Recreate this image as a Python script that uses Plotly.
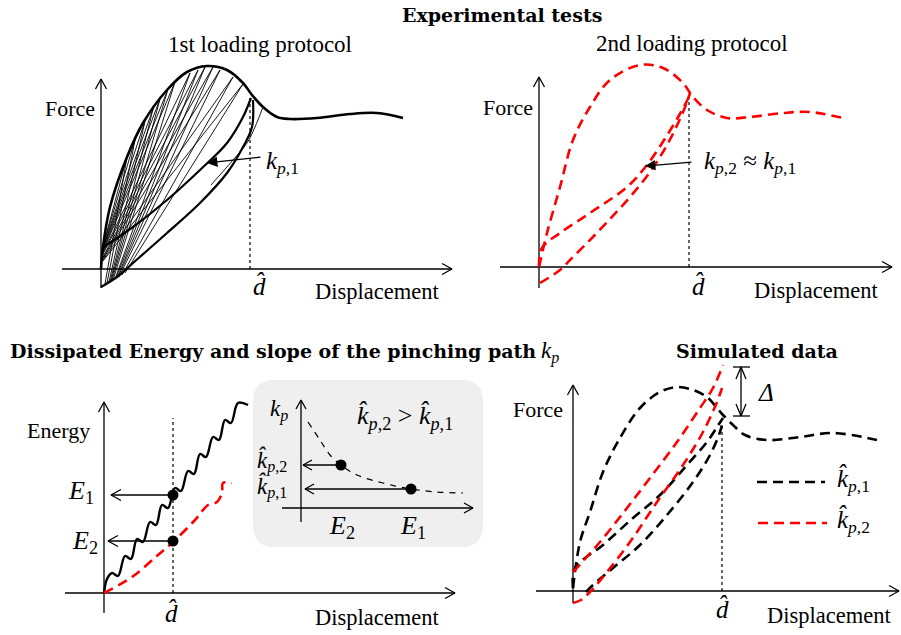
import plotly.graph_objects as go

W, H = 901, 635

# ---------------- data (displacement, force / energy in arbitrary units) ----------------
# Panel 1 : 1st loading protocol
p1_env_x = [0, 2, 9, 26, 42, 66, 86, 106, 126, 142, 151, 162, 176, 189, 216, 249, 276, 302]
p1_env_y = [0, 22, 62, 112, 146, 179, 197, 203, 199, 186, 174, 162, 152, 150, 151, 155, 156, 151]
p1_reload_x = [1, 32, 66, 99, 126, 142, 150]
p1_reload_y = [21, 42, 69, 99, 126, 152, 171]
p1_lower_x = [0, 16, 32, 66, 99, 126, 142, 151, 152]
p1_lower_y = [-18, -8, 6, 36, 66, 96, 122, 142, 169]
p1_cyc_start_x = [1, 1, 1, 1, 1, 1, 1, 1, 1, 2, 2, 2, 2, 2]
p1_cyc_start_y = [19, 19, 18, 18, 17, 16, 15, 14, 13, 12, 11, 10, 9, 8]
p1_cyc_top_x = [26, 34, 44, 52, 59, 67, 74, 89, 97, 104, 112, 119, 132, 142]
p1_cyc_top_y = [112, 129, 148, 160, 170, 180, 187, 196, 199, 202, 202, 199, 192, 185]
p1_cyc_end_x = [4, 6, 8, 9, 10, 11, 12, 14, 15, 16, 17, 18, 21, 24]
p1_cyc_end_y = [-15, -14, -13, -13, -12, -11, -11, -10, -9, -9, -8, -8, -6, -4]
p1_post_x = [162, 154, 146, 132, 110]
p1_post_y = [162, 142, 126, 109, 84]
p1_dhat = 149
p1_dhat_force = 172

# Panel 2 : 2nd loading protocol
p2_env_x = [0, 8, 21, 34, 51, 71, 101, 124, 144, 154, 168, 188, 211, 244, 271, 304]
p2_env_y = [0, 34, 80, 127, 160, 187, 202, 199, 184, 170, 157, 149, 150, 154, 155, 149]
p2_reload_x = [0, 3, 21, 51, 88, 108, 127, 142, 151]
p2_reload_y = [0, 19, 34, 54, 80, 102, 130, 155, 172]
p2_lower_x = [1, 21, 31, 51, 71, 91, 111, 128, 141, 148, 151]
p2_lower_y = [-16, -3, 7, 27, 48, 70, 95, 122, 148, 165, 174]
p2_dhat = 150
p2_dhat_force = 174

# Panel 3 : dissipated energy
p3_e1_x = [0, 3, 8, 14, 21, 27, 33, 39, 46, 52, 58, 64, 71, 77, 84, 90, 96, 102, 109, 115, 121, 127, 134, 144]
p3_e1_y = [0, 14, 20, 17, 37, 34, 54, 51, 71, 68, 88, 85, 105, 102, 122, 119, 139, 136, 156, 153, 173, 170, 190, 188]
p3_e2_x = [0, 28, 54, 69, 91, 104, 113, 118, 119, 128]
p3_e2_y = [0, 16, 38, 51, 73, 88, 91, 100, 110, 110]
p3_dhat = 69
p3_E1 = 98
p3_E2 = 52

# Inset : k_p versus energy
in_curve_x = [7, 19, 29, 40, 56, 82, 110, 136, 162]
in_curve_y = [86, 68, 53, 43, 33, 25, 19, 16, 15]
in_pts_x = [40, 110]
in_pts_y = [43, 19]

# Panel 4 : simulated data
p4_k1_env_x = [0, 7, 17, 30, 47, 67, 87, 104, 120, 134, 144, 150, 160, 172, 194, 227, 260, 304]
p4_k1_env_y = [3, 49, 79, 119, 153, 183, 199, 204, 201, 194, 183, 176, 166, 156, 151, 154, 158, 151]
p4_k1_up_x = [0, 2, 30, 60, 87, 114, 134, 144, 150]
p4_k1_up_y = [3, 23, 46, 73, 96, 126, 149, 164, 173]
p4_k1_lo_x = [13, 20, 40, 67, 94, 120, 137, 147, 150]
p4_k1_lo_y = [-1, 6, 23, 46, 76, 109, 136, 159, 171]
p4_k2_up_x = [0, 27, 54, 77, 104, 127, 140, 150]
p4_k2_up_y = [19, 49, 83, 113, 149, 183, 203, 226]
p4_k2_lo_x = [0, 8, 17, 34, 57, 84, 110, 130, 144, 149]
p4_k2_lo_y = [-12, -9, -1, 19, 49, 89, 126, 159, 189, 203]
p4_dhat = 149
p4_dhat_force = 168
p4_delta_lo = 175
p4_delta_hi = 224

# ---------------- layout helpers ----------------
# panel origins in pixels (position only)
ORIG = {1: (101, 269), 2: (539, 267), 3: (104, 593), 4: (573, 591), 5: (301, 508)}
AX_EXT = {1: ((-39, 351), (-19, 190)), 2: ((-39, 353), (-21, 190)),
          3: ((-39, 351), (-20, 191)), 4: ((-37, 326), (-12, 206)),
          5: ((-19, 172), (-14, 108))}

fig = go.Figure()
BLACK = "#000000"
RED = "#ff0000"
DASH = "10px,6px"


def ax(i):
    return ("x" if i == 1 else f"x{i}"), ("y" if i == 1 else f"y{i}")


def add(i, x, y, color=BLACK, width=1.3, dash="solid", shape="linear", mode="lines", smooth=1.0, **kw):
    xa, ya = ax(i)
    line = dict(color=color, width=width, dash=dash, shape=shape)
    if shape == "spline":
        line["smoothing"] = smooth
    fig.add_trace(go.Scatter(x=x, y=y, mode=mode, line=line, xaxis=xa, yaxis=ya,
                             showlegend=False, hoverinfo="skip", **kw))


def vhead(i, tx, ty, dx, dy, L=10, Wd=5.5, width=1.3):
    # open "V" arrow head at the tip (tx, ty) pointing along (dx, dy)
    nx, ny = -dy, dx
    xs = [tx - L * dx + Wd * nx, tx, tx - L * dx - Wd * nx]
    ys = [ty - L * dy + Wd * ny, ty, ty - L * dy - Wd * ny]
    add(i, xs, ys, width=width)


def axes(i, L=10, Wd=5.5):
    (x0, x1), (y0, y1) = AX_EXT[i]
    add(i, [x0, x1], [0, 0], width=1.3)
    add(i, [0, 0], [y0, y1], width=1.3)
    vhead(i, x1, 0, 1, 0, L, Wd)
    vhead(i, 0, y1, 0, 1, L, Wd)


def P(px, py):
    return px / W, 1 - py / H


annotations = []


def text(px, py, s, size=22, family="Liberation Serif", xanchor="center", yanchor="middle", color=BLACK):
    x, y = P(px, py)
    annotations.append(dict(x=x, y=y, xref="paper", yref="paper", text=s, showarrow=False,
                            xanchor=xanchor, yanchor=yanchor,
                            font=dict(family=family, size=size, color=color)))


# gray inset box (rounded)
bx0, by0, bx1, by1, r = 253, 380, 483, 547, 22
pts = [("M", bx0 + r, by0), ("L", bx1 - r, by0), ("Q", bx1, by0, bx1, by0 + r), ("L", bx1, by1 - r),
       ("Q", bx1, by1, bx1 - r, by1), ("L", bx0 + r, by1), ("Q", bx0, by1, bx0, by1 - r),
       ("L", bx0, by0 + r), ("Q", bx0, by0, bx0 + r, by0)]
path = ""
for p in pts:
    c = p[0]
    coords = p[1:]
    segs = []
    for k in range(0, len(coords), 2):
        x, y = P(coords[k], coords[k + 1])
        segs.append(f"{x:.5f},{y:.5f}")
    path += c + " " + " ".join(segs) + " "
path += "Z"
shapes = [dict(type="path", path=path, xref="paper", yref="paper", fillcolor="#efefef",
               line=dict(width=0), layer="below")]

# ---------------- Panel 1 ----------------
axes(1)
cx, cy = [], []
for k in range(len(p1_cyc_top_x)):
    cx += [p1_cyc_start_x[k], p1_cyc_top_x[k], p1_cyc_end_x[k], None]
    cy += [p1_cyc_start_y[k], p1_cyc_top_y[k], p1_cyc_end_y[k], None]
add(1, cx, cy, width=0.9)
add(1, p1_post_x, p1_post_y, width=0.9, shape="spline")
add(1, [p1_dhat, p1_dhat], [0, p1_dhat_force], width=1.2, dash="dot")
add(1, p1_env_x, p1_env_y, width=2.6, shape="spline")
add(1, p1_reload_x, p1_reload_y, width=2.2, shape="spline")
add(1, p1_lower_x, p1_lower_y, width=2.2, shape="spline")

# ---------------- Panel 2 ----------------
axes(2)
add(2, [p2_dhat, p2_dhat], [0, p2_dhat_force], width=1.2, dash="dot")
add(2, p2_env_x, p2_env_y, color=RED, width=2.6, dash=DASH, shape="spline")
add(2, p2_reload_x, p2_reload_y, color=RED, width=2.6, dash=DASH, shape="spline")
add(2, p2_lower_x, p2_lower_y, color=RED, width=2.6, dash=DASH, shape="spline")

# ---------------- Panel 3 ----------------
axes(3)
add(3, [p3_dhat, p3_dhat], [0, 175], width=1.2, dash="dot")
add(3, p3_e1_x, p3_e1_y, width=2.4, shape="spline", smooth=1.0)
add(3, p3_e2_x, p3_e2_y, color=RED, width=2.6, dash=DASH, shape="spline")
add(3, [p3_dhat, 7], [p3_E1, p3_E1], width=1.3)
vhead(3, 7, p3_E1, -1, 0)
add(3, [p3_dhat, 4], [p3_E2, p3_E2], width=1.3)
vhead(3, 4, p3_E2, -1, 0)
add(3, [p3_dhat, p3_dhat], [p3_E1, p3_E2], mode="markers", marker=dict(size=11, color=BLACK))

# ---------------- Inset ----------------
axes(5, L=9, Wd=5)
add(5, in_curve_x, in_curve_y, width=1.2, dash="6px,6px", shape="spline")
add(5, [in_pts_x[0], 2], [in_pts_y[0], in_pts_y[0]], width=1.3)
vhead(5, 2, in_pts_y[0], -1, 0, 9, 5)
add(5, [in_pts_x[1], 4], [in_pts_y[1], in_pts_y[1]], width=1.3)
vhead(5, 4, in_pts_y[1], -1, 0, 9, 5)
add(5, in_pts_x, in_pts_y, mode="markers", marker=dict(size=11, color=BLACK))

# ---------------- Panel 4 ----------------
axes(4)
add(4, [p4_dhat, p4_dhat], [0, p4_dhat_force], width=1.2, dash="dot")
add(4, p4_k1_env_x, p4_k1_env_y, width=2.6, dash=DASH, shape="spline")
add(4, p4_k1_up_x, p4_k1_up_y, width=2.6, dash=DASH, shape="spline")
add(4, p4_k1_lo_x, p4_k1_lo_y, width=2.6, dash=DASH, shape="spline")
add(4, p4_k2_up_x, p4_k2_up_y, color=RED, width=2.6, dash=DASH, shape="spline")
add(4, p4_k2_lo_x, p4_k2_lo_y, color=RED, width=2.6, dash=DASH, shape="spline")
# Delta bracket
add(4, [168, 168], [p4_delta_lo, p4_delta_hi], width=1.3)
add(4, [160, 177], [p4_delta_hi, p4_delta_hi], width=1.3)
add(4, [160, 177], [p4_delta_lo, p4_delta_lo], width=1.3)
vhead(4, 168, p4_delta_hi, 0, 1, 12, 5)
vhead(4, 168, p4_delta_lo, 0, -1, 12, 5)
# legend lines
add(4, [184, 252], [109, 109], width=2.6, dash=DASH)
add(4, [185, 254], [68, 68], color=RED, width=2.6, dash=DASH)

# ---------------- k_p arrows (filled heads) ----------------
annotations.append(dict(x=106, y=106, ax=161, ay=112, xref="x", yref="y", axref="x", ayref="y",
                        showarrow=True, arrowhead=2, arrowsize=1.6, arrowwidth=1.3, arrowcolor=BLACK, text=""))
annotations.append(dict(x=106, y=101, ax=154, ay=105, xref="x2", yref="y2", axref="x2", ayref="y2",
                        showarrow=True, arrowhead=2, arrowsize=1.6, arrowwidth=1.3, arrowcolor=BLACK, text=""))

# ---------------- texts ----------------
BOLD = "DejaVu Serif"
MATH = "Liberation Serif"
kp1 = "<i>k</i><sub><i>p</i>,1</sub>"
kp2 = "<i>k</i><sub><i>p</i>,2</sub>"
kh1 = "<i>k\u0302</i><sub><i>p</i>,1</sub>"
kh2 = "<i>k\u0302</i><sub><i>p</i>,2</sub>"
dh = "<i>d\u0302</i>"

text(502, 15, "<b>Experimental tests</b>", size=19, family=BOLD)
text(260, 44, "1st loading protocol", size=23)
text(692, 43, "2nd loading protocol", size=23)
text(97, 108, "Force", size=22, xanchor="right")
text(535, 107, "Force", size=22, xanchor="right")
text(565, 409, "Force", size=22, xanchor="right")
text(313, 291, "Displacement", size=22.5, xanchor="left")
text(752, 290, "Displacement", size=22.5, xanchor="left")
text(313, 617, "Displacement", size=22.5, xanchor="left")
text(765, 615, "Displacement", size=22.5, xanchor="left")
text(259, 286, dh, size=25, family=MATH)
text(698, 286, dh, size=25, family=MATH)
text(171, 613, dh, size=25, family=MATH)
text(722, 609, dh, size=25, family=MATH)
text(264, 162, kp1, size=25, family=MATH, xanchor="left")
text(702, 162, kp2 + " \u2248 " + kp1, size=25, family=MATH, xanchor="left")

text(8, 351, "<b>Dissipated Energy and slope of the pinching path</b>", size=19, family=BOLD, xanchor="left")
text(539, 352, "<i>k</i><sub><i>p</i></sub>", size=23, family=MATH, xanchor="left")
text(757, 351, "<b>Simulated data</b>", size=19, family=BOLD)
text(92, 430, "Energy", size=22, xanchor="right")
text(81, 492, "<i>E</i><sub>1</sub>", size=26, family=MATH)
text(85, 542, "<i>E</i><sub>2</sub>", size=26, family=MATH)
text(279, 410, "<i>k</i><sub><i>p</i></sub>", size=23, family=MATH)
text(405, 417, kh2 + " > " + kh1, size=26, family=MATH)
text(272, 461, kh2, size=23, family=MATH)
text(272, 487, kh1, size=23, family=MATH)
text(342, 527, "<i>E</i><sub>2</sub>", size=26, family=MATH)
text(413, 527, "<i>E</i><sub>1</sub>", size=26, family=MATH)
text(766, 392, "<i>\u0394</i>", size=25, family=MATH)
text(835, 480, kh1, size=25, family=MATH, xanchor="left")
text(835, 521, kh2, size=25, family=MATH, xanchor="left")

layout = dict(width=W, height=H, margin=dict(l=0, r=0, t=0, b=0), paper_bgcolor="white",
              plot_bgcolor="rgba(0,0,0,0)", showlegend=False, annotations=annotations, shapes=shapes)
for i, (ox, oy) in ORIG.items():
    xa = "xaxis" if i == 1 else f"xaxis{i}"
    ya = "yaxis" if i == 1 else f"yaxis{i}"
    layout[xa] = dict(domain=[0, 1], range=[-ox, W - ox], visible=False, fixedrange=True,
                      anchor=("y" if i == 1 else f"y{i}"))
    layout[ya] = dict(domain=[0, 1], range=[oy - H, oy], visible=False, fixedrange=True,
                      anchor=("x" if i == 1 else f"x{i}"))
fig.update_layout(**layout)
fig.write_html("out.html")
